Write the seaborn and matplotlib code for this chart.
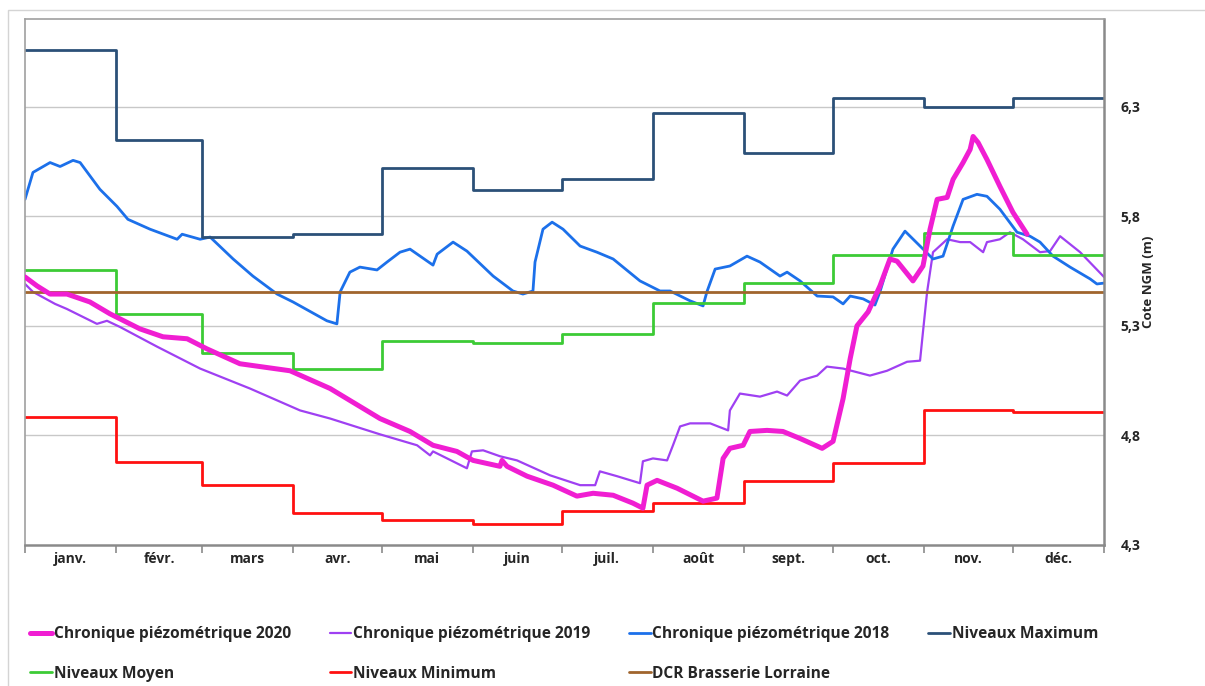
import numpy as np
import pandas as pd
import matplotlib
matplotlib.use("Agg")
import matplotlib.pyplot as plt
from matplotlib.patches import Rectangle
from matplotlib.ticker import FixedLocator, FuncFormatter
import seaborn as sns

# --- données (jour de l'année 2020, cote NGM en m) ---
mois = ['janv.', 'févr.', 'mars', 'avr.', 'mai', 'juin',
        'juil.', 'août', 'sept.', 'oct.', 'nov.', 'déc.']
debut_mois = [0, 31, 60, 91, 121, 152, 182, 213, 244, 274, 305, 335, 366]

niv_max = [6.56, 6.15, 5.705, 5.72, 6.02, 5.92, 5.97, 6.27, 6.09, 6.34, 6.30, 6.34]
niv_moyen = [5.555, 5.355, 5.177, 5.105, 5.232, 5.223, 5.264, 5.405, 5.495, 5.623, 5.723, 5.623]
niv_min = [4.882, 4.677, 4.573, 4.445, 4.414, 4.395, 4.455, 4.49, 4.59, 4.673, 4.918, 4.909]
dcr = 5.455

jours_2018 = [0, 2.7, 8.5, 11.9, 16.3, 18.7, 25.4, 31.2, 34.9, 42.4, 51.6, 53.3, 59.4, 62.8,
              70.6, 77.3, 85.5, 90.9, 102.4, 105.8, 106.9, 110.2, 113.6, 119.4, 122.8, 127.2,
              130.6, 138.4, 139.8, 145.2, 149.9, 158.8, 165.5, 168.9, 172.3, 173.0, 175.7,
              178.8, 182.5, 188.3, 194.0, 199.5, 208.6, 215.4, 218.8, 225.6, 230.0, 231.3,
              234.1, 239.1, 244.9, 249.3, 256.1, 258.5, 262.9, 268.7, 274.1, 277.5, 279.9,
              284.3, 288.3, 290.0, 294.4, 298.5, 303.6, 308.0, 311.4, 314.8, 318.2, 322.9,
              326.3, 330.7, 336.5, 340.9, 344.3, 348.7, 354.5, 361.3, 363.6, 366]
cote_2018 = [5.877, 6.0, 6.045, 6.027, 6.055, 6.045, 5.923, 5.845, 5.786, 5.741, 5.695, 5.718,
             5.695, 5.705, 5.605, 5.527, 5.445, 5.409, 5.323, 5.309, 5.455, 5.545, 5.568,
             5.555, 5.591, 5.636, 5.65, 5.577, 5.627, 5.682, 5.641, 5.527, 5.459, 5.445,
             5.459, 5.591, 5.741, 5.773, 5.741, 5.664, 5.636, 5.605, 5.505, 5.459, 5.459,
             5.414, 5.391, 5.455, 5.559, 5.573, 5.618, 5.591, 5.527, 5.545, 5.505, 5.436,
             5.432, 5.4, 5.436, 5.423, 5.395, 5.455, 5.65, 5.732, 5.664, 5.605, 5.618,
             5.755, 5.877, 5.9, 5.891, 5.832, 5.727, 5.709, 5.682, 5.618, 5.568, 5.514,
             5.491, 5.495]

jours_2019 = [0, 2.7, 10.2, 14.2, 24.4, 27.8, 32.2, 44.8, 59.4, 76.3, 93.3, 103.5, 120.4,
              133.0, 137.4, 138.4, 149.9, 151.6, 155.4, 161.1, 166.9, 178.1, 188.3, 193.4,
              195.0, 200.8, 208.6, 209.6, 213.0, 217.8, 219.8, 222.2, 225.6, 232.4, 238.5,
              239.1, 242.5, 249.3, 255.1, 258.5, 262.9, 268.7, 272.0, 277.5, 286.6, 292.4,
              299.2, 303.6, 304.6, 306.0, 308.0, 312.8, 317.2, 320.6, 325.0, 326.3, 330.7,
              334.1, 338.5, 344.3, 347.7, 351.1, 357.9, 366]
cote_2019 = [5.491, 5.455, 5.4, 5.377, 5.309, 5.323, 5.295, 5.205, 5.105, 5.014, 4.914, 4.877,
             4.805, 4.755, 4.709, 4.727, 4.65, 4.727, 4.732, 4.705, 4.686, 4.618, 4.573,
             4.573, 4.636, 4.614, 4.582, 4.682, 4.695, 4.686, 4.755, 4.841, 4.855, 4.855,
             4.823, 4.914, 4.991, 4.977, 5.0, 4.982, 5.05, 5.073, 5.114, 5.105, 5.073, 5.095,
             5.136, 5.141, 5.273, 5.455, 5.636, 5.695, 5.682, 5.682, 5.636, 5.682, 5.695,
             5.727, 5.695, 5.636, 5.641, 5.709, 5.636, 5.523]

jours_2020 = [0, 4.1, 8.5, 14.2, 22.0, 28.8, 39.0, 46.8, 55.0, 61.7, 72.9, 89.9, 103.5, 120.4,
              130.6, 138.4, 146.5, 152.0, 161.1, 161.8, 163.5, 170.3, 179.1, 187.2, 192.7,
              199.5, 206.2, 209.6, 211.0, 214.4, 221.2, 230.0, 234.7, 236.8, 239.1, 243.6,
              245.9, 251.7, 257.1, 262.9, 270.4, 274.1, 277.5, 279.9, 282.2, 286.0, 290.0,
              293.4, 295.8, 301.2, 304.6, 307.0, 309.4, 312.8, 314.8, 318.2, 320.6, 321.6,
              323.3, 326.3, 330.7, 335.1, 339.9]
cote_2020 = [5.523, 5.482, 5.445, 5.445, 5.409, 5.355, 5.286, 5.25, 5.241, 5.195, 5.127, 5.095,
             5.014, 4.877, 4.818, 4.755, 4.727, 4.686, 4.659, 4.686, 4.659, 4.614, 4.573,
             4.523, 4.536, 4.527, 4.491, 4.468, 4.573, 4.595, 4.559, 4.5, 4.514, 4.695,
             4.741, 4.755, 4.818, 4.823, 4.818, 4.786, 4.741, 4.773, 4.968, 5.15, 5.3,
             5.364, 5.482, 5.605, 5.595, 5.505, 5.573, 5.741, 5.877, 5.886, 5.968, 6.045,
             6.105, 6.164, 6.136, 6.059, 5.936, 5.818, 5.718]

# couleurs
c2020 = '#F01ED2'
c2019 = '#9F40F2'
c2018 = '#1C70EA'
cmax = '#2B5078'
cmoy = '#3CCB35'
cmin = '#FF1010'
cdcr = '#A0652D'


def paliers(valeurs):
    """série mensuelle -> points pour un tracé en escalier"""
    return pd.DataFrame({'jour': debut_mois, 'cote': list(valeurs) + [valeurs[-1]]})


sns.set_theme(style='white')
plt.rcParams['font.family'] = ['Open Sans', 'DejaVu Sans']
plt.rcParams['font.weight'] = 'bold'

fig = plt.figure(figsize=(12.05, 6.86), dpi=100)
ax = fig.add_axes([25 / 1205, 1 - 545 / 686, (1104 - 25) / 1205, (545 - 19) / 686])

# cadre extérieur de la zone graphique
fig.patches.append(Rectangle((8 / 1205, -0.01), 1.0, 1 - 10 / 686 + 0.01,
                             transform=fig.transFigure, fill=False,
                             edgecolor='#d4d4d4', lw=1.0))

# lignes de grille
for y in [4.8, 5.3, 5.8, 6.3]:
    ax.axhline(y, color='#c8c8c8', lw=1.0, zorder=0)

sns.lineplot(x=jours_2020, y=cote_2020, ax=ax, color=c2020, lw=3.6, label='Chronique piézométrique 2020', zorder=3)
sns.lineplot(x=jours_2019, y=cote_2019, ax=ax, color=c2019, lw=1.6, label='Chronique piézométrique 2019', zorder=2)
sns.lineplot(x=jours_2018, y=cote_2018, ax=ax, color=c2018, lw=2.0, label='Chronique piézométrique 2018', zorder=2)
d = paliers(niv_max)
sns.lineplot(data=d, x='jour', y='cote', ax=ax, color=cmax, lw=2.0, drawstyle='steps-post', label='Niveaux Maximum')
d = paliers(niv_moyen)
sns.lineplot(data=d, x='jour', y='cote', ax=ax, color=cmoy, lw=2.0, drawstyle='steps-post', label='Niveaux Moyen')
d = paliers(niv_min)
sns.lineplot(data=d, x='jour', y='cote', ax=ax, color=cmin, lw=2.0, drawstyle='steps-post', label='Niveaux Minimum')
sns.lineplot(x=[debut_mois[0], debut_mois[-1]], y=[dcr, dcr], ax=ax, color=cdcr, lw=2.0, label='DCR Brasserie Lorraine')

ax.set_xlim(0, 366)
ax.set_ylim(4.3, 6.7)

# axe des x : mois
ax.xaxis.set_major_locator(FixedLocator(debut_mois))
ax.xaxis.set_major_formatter(FuncFormatter(lambda v, p: ''))
milieux = [(debut_mois[i] + debut_mois[i + 1]) / 2 for i in range(12)]
ax.xaxis.set_minor_locator(FixedLocator(milieux))
ax.set_xticklabels(mois, minor=True, fontsize=10, fontweight='bold')
ax.tick_params(axis='x', which='major', length=6, color='#909090', direction='out', bottom=True)
ax.tick_params(axis='x', which='minor', length=0, pad=5, bottom=True)

# axe des y à droite
ax.yaxis.tick_right()
ax.yaxis.set_label_position('right')
ax.set_yticks([4.3, 4.8, 5.3, 5.8, 6.3])
ax.yaxis.set_major_formatter(FuncFormatter(lambda v, p: f'{v:.1f}'.replace('.', ',')))
ax.tick_params(axis='y', labelsize=10, length=0, pad=12)
for t in ax.get_yticklabels():
    t.set_fontweight('bold')
ax.set_ylabel('Cote NGM (m)', fontsize=9.5, fontweight='bold', labelpad=1)
ax.set_xlabel('')

for s in ['top', 'left']:
    ax.spines[s].set_color('#a0a0a0')
    ax.spines[s].set_linewidth(1.2)
for s in ['bottom', 'right']:
    ax.spines[s].set_color('#8a8a8a')
    ax.spines[s].set_linewidth(1.8)

# légende en 2 lignes, remplie ligne par ligne
h, l = ax.get_legend_handles_labels()
ordre = [0, 4, 1, 5, 2, 6, 3]
ax.get_legend().remove()
leg = fig.legend([h[i] for i in ordre], [l[i] for i in ordre], ncol=4,
                 loc='upper left', bbox_to_anchor=(24 / 1205, 1 - 620 / 686),
                 frameon=False, fontsize=11.2, handlelength=1.4, handletextpad=0.1,
                 columnspacing=2.5, labelspacing=1.5, borderaxespad=0)
for t in leg.get_texts():
    t.set_fontweight('bold')

fig.savefig('out.png', dpi=100)
